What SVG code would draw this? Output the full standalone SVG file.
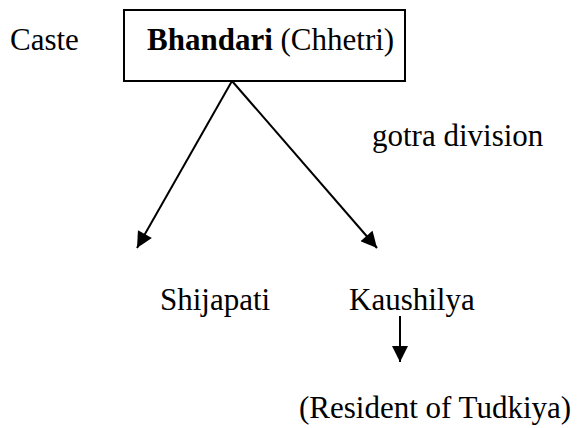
<svg xmlns="http://www.w3.org/2000/svg" width="578" height="428" viewBox="0 0 578 428">
  <style>
    text { font-family: "Liberation Serif", "Times New Roman", serif; font-size: 31px; fill: #000; }
    .b { font-weight: bold; }
    .edge { stroke: #000; stroke-width: 2; fill: none; }
    .box { fill: #fff; stroke: #000; stroke-width: 2; }
  </style>
  <defs>
    <marker id="headBig" viewBox="0 0 10 10" refX="10" refY="5" markerWidth="17" markerHeight="16" markerUnits="userSpaceOnUse" orient="auto">
      <path d="M0,0 L10,5 L0,10 z" fill="#000"/>
    </marker>
  </defs>

  <g id="label-caste">
    <text x="10" y="50">Caste</text>
  </g>

  <g id="node-bhandari">
    <rect class="box" x="124" y="10" width="281" height="71"/>
    <text x="147" y="50"><tspan class="b">Bhandari</tspan> (Chhetri)</text>
  </g>

  <g id="label-gotra">
    <text x="372" y="146">gotra division</text>
  </g>

  <g id="node-shijapati">
    <text x="160" y="310">Shijapati</text>
  </g>

  <g id="node-kaushilya">
    <text x="349" y="310">Kaushilya</text>
  </g>

  <g id="node-resident">
    <text x="299" y="418">(Resident of Tudkiya)</text>
  </g>

  <g id="connectors">
    <line class="edge" x1="232" y1="81" x2="137" y2="248" marker-end="url(#headBig)"/>
    <line class="edge" x1="232" y1="81" x2="377" y2="248" marker-end="url(#headBig)"/>
    <line class="edge" x1="400" y1="316" x2="400" y2="362" marker-end="url(#headBig)"/>
  </g>
</svg>
